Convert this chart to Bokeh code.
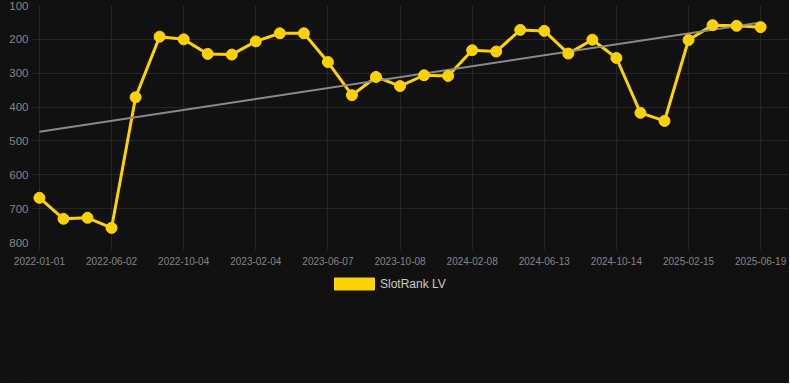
import numpy as np
from bokeh.plotting import figure
from bokeh.layouts import column
from bokeh.models import (ColumnDataSource, Range1d, FixedTicker, Legend, LegendItem)
from bokeh.embed import file_html
from bokeh.resources import INLINE

dates = [
    "2022-01-01", "2022-02-20", "2022-04-12", "2022-06-02", "2022-07-13", "2022-08-23",
    "2022-10-04", "2022-11-14", "2022-12-25", "2023-02-04", "2023-03-17", "2023-04-27",
    "2023-06-07", "2023-07-18", "2023-08-28", "2023-10-08", "2023-11-18", "2023-12-29",
    "2024-02-08", "2024-03-20", "2024-05-02", "2024-06-13", "2024-07-24", "2024-09-03",
    "2024-10-14", "2024-11-24", "2025-01-04", "2025-02-15", "2025-03-28", "2025-05-08",
    "2025-06-19",
]
ranks = [668, 730, 727, 757, 371, 192, 200, 243, 245, 206, 182, 182, 267, 365, 311,
         338, 306, 308, 232, 236, 172, 175, 242, 201, 255, 417, 441, 202, 158, 160, 164]
y_ticks = [100, 200, 300, 400, 500, 600, 700, 800]
label_every = 3
series_name = "SlotRank LV"

BG = "#111111"
GRID = "#262626"
TICK_TEXT = "#858585"
YELLOW = "#FFD100"
FONT = "Liberation Sans"

idx = list(range(len(dates)))
src = ColumnDataSource(dict(x=idx, y=ranks))

# linear trend (least squares)
slope, intercept = np.polyfit(np.array(idx, dtype=float), np.array(ranks, dtype=float), 1)
trend_src = ColumnDataSource(dict(x=[idx[0], idx[-1]],
                                  y=[intercept + slope * idx[0], intercept + slope * idx[-1]]))

p = figure(frame_width=758, frame_height=237, output_backend="svg", toolbar_location=None,
           x_range=Range1d(-0.33, 31.2), y_range=Range1d(800, 100),
           min_border_left=31, min_border_right=0, min_border_top=5, min_border_bottom=27,
           background_fill_color=BG, border_fill_color=BG, outline_line_color=None)

p.xaxis.ticker = FixedTicker(ticks=idx[::label_every])
p.xaxis.major_label_overrides = {i: dates[i] for i in idx[::label_every]}
p.yaxis.ticker = FixedTicker(ticks=y_ticks)

for ax in (p.xaxis[0], p.yaxis[0]):
    ax.axis_line_color = None
    ax.minor_tick_line_color = None
    ax.major_label_text_color = TICK_TEXT
    ax.major_label_text_font = FONT
p.xaxis.major_tick_line_color = GRID
p.xaxis.major_tick_out = 7
p.xaxis.major_tick_in = 0
p.xaxis.major_label_standoff = 7
p.xaxis.major_label_text_font_size = "10px"
p.yaxis.major_tick_line_color = None
p.yaxis.major_tick_out = 0
p.yaxis.major_tick_in = 0
p.yaxis.major_label_standoff = 3
p.yaxis.major_label_text_font_size = "11.5px"

p.xgrid.grid_line_color = GRID
p.ygrid.grid_line_color = GRID

p.line("x", "y", source=src, line_color=YELLOW, line_width=3)
p.line("x", "y", source=trend_src, line_color="#8a8a8a", line_width=2)
p.scatter("x", "y", source=src, size=11, fill_color=YELLOW, line_color=YELLOW)

# legend strip below the chart (swatch renderer sits outside the visible range)
lg = figure(frame_width=758, frame_height=114, output_backend="svg", toolbar_location=None,
            x_range=Range1d(0, 1), y_range=Range1d(0, 1),
            x_axis_type=None, y_axis_type=None,
            min_border_left=31, min_border_right=0, min_border_top=0, min_border_bottom=0,
            background_fill_color=BG, border_fill_color=BG, outline_line_color=None)
lg.grid.visible = False
swatch = ColumnDataSource(dict(left=[5], right=[6], top=[6], bottom=[5]))
dummy = lg.quad(left="left", right="right", top="top", bottom="bottom", source=swatch,
                fill_color=YELLOW, line_color=YELLOW)
legend = Legend(items=[LegendItem(label=series_name, renderers=[dummy])],
                orientation="horizontal", location=(298, 92),
                background_fill_alpha=0, border_line_color=None,
                label_text_color="#cccccc", label_text_font=FONT,
                label_text_font_size="12px", glyph_width=50, glyph_height=15,
                padding=8, margin=0, label_standoff=1)
lg.add_layout(legend, "center")

layout = column(p, lg, spacing=0, styles={"background-color": BG})
open("out.html", "w").write(file_html(layout, INLINE))
